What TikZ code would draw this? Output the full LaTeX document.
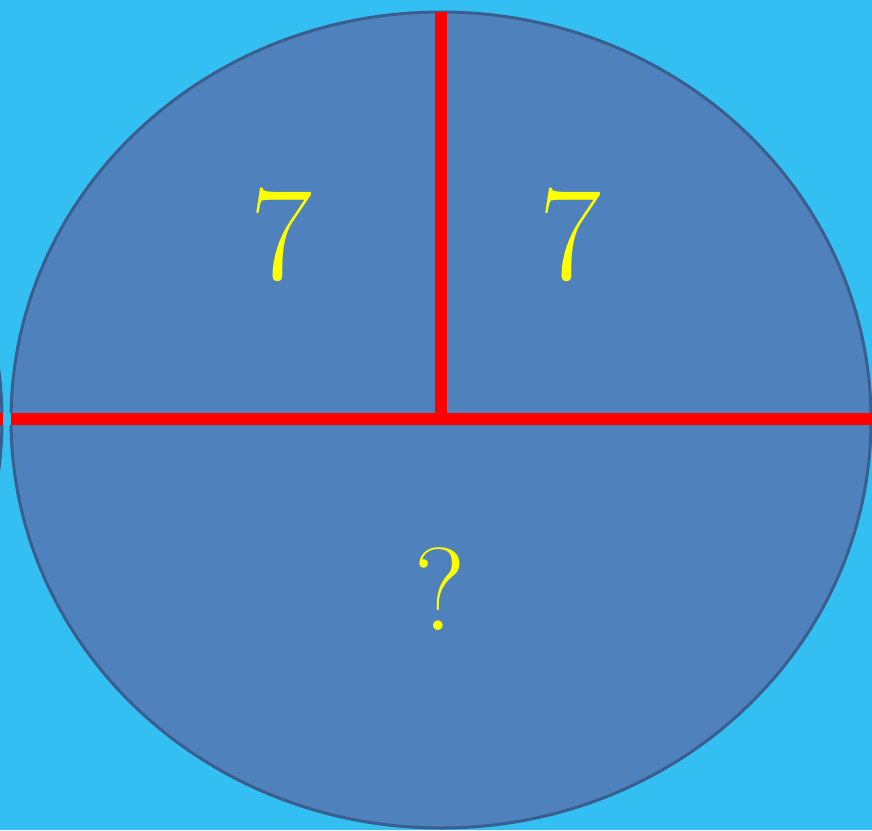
\documentclass[tikz,border=0pt]{standalone}
\definecolor{bgblue}{HTML}{33BFF2}
\definecolor{fillblue}{HTML}{4F81BD}
\definecolor{edgeblue}{HTML}{3A5F8E}
\definecolor{txtyellow}{HTML}{FFFF00}
\definecolor{redline}{HTML}{FF0000}
\tikzset{
  disk/.style={fill=fillblue, draw=edgeblue, line width=3pt},
  cut/.style={draw=redline, line width=12pt},
  lbl/.style={text=txtyellow, anchor=base, inner sep=0pt, font=\fontsize{135}{135}\selectfont},
  qlbl/.style={text=txtyellow, anchor=base, inner sep=0pt, font=\fontsize{118}{118}\selectfont}
}
\begin{document}
\begin{tikzpicture}[x=1pt,y=-1pt]
\useasboundingbox (0,0) rectangle (872,830);
\fill[bgblue] (0,0) rectangle (872,830);
% sliver of neighbouring disk at the left edge
\begin{scope}
\clip (0,0) rectangle (872,830);
\draw[disk] (-428,420) ellipse [x radius=430, y radius=408];
\end{scope}
\draw[disk] (441,420) ellipse [x radius=430, y radius=408];
\coordinate (L) at (0,419);
\coordinate (R) at (872,419);
\coordinate (T) at (441,12);
\coordinate (C) at (441,419);
\begin{scope}
\clip (0,0) rectangle (872,830);
\draw[cut] (L) -- (R);
\draw[cut] (T) -- (C);
\end{scope}
% gap between sliver and main disk
\fill[bgblue] (3,413) rectangle (11,425);
\node[lbl] (a) at (281,279) {7};
\node[lbl] (b) at (570,279) {7};
\node[qlbl] (q) at (440,630) {?};
\end{tikzpicture}
\end{document}
